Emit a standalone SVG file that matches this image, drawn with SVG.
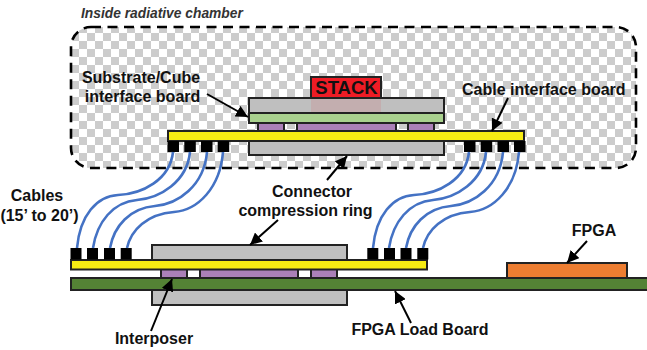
<svg xmlns="http://www.w3.org/2000/svg" width="647" height="350" viewBox="0 0 647 350">
<style>
text{font-family:"Liberation Sans",Arial,sans-serif;font-weight:bold;font-size:16px;fill:#111}
.c{text-anchor:middle}
.b{stroke:#222;stroke-width:2}
.gray{fill:#bfbfbf}.yellow{fill:#f7ec13}.purple{fill:#ab80b8}.green{fill:#a9d18e}.dgreen{fill:#548235}.orange{fill:#ed7d31}
.pad{fill:#000}
.cable{fill:none;stroke:#4472c4;stroke-width:2.6}
.arrow{fill:none;stroke:#000;stroke-width:2;marker-end:url(#ah)}
</style>
<defs>
<pattern id="chk" width="16" height="16" patternUnits="userSpaceOnUse" x="71" y="33">
<rect width="16" height="16" fill="#fff"/>
<rect width="8" height="8" fill="#ccc"/>
<rect x="8" y="8" width="8" height="8" fill="#ccc"/>
</pattern>
<marker id="ah" markerUnits="userSpaceOnUse" markerWidth="13" markerHeight="12" refX="12" refY="6" orient="auto">
<path d="M0 0L12 6L0 12Z" fill="#000"/>
</marker>
</defs>
<g id="chamber">
<rect x="71" y="27" width="565" height="141" rx="20" fill="url(#chk)" stroke="#000" stroke-width="2.6" stroke-dasharray="10 6.5"/>
<text x="81" y="18" style="font-style:italic;font-size:13.8px;fill:#333">Inside radiative chamber</text>
</g>
<g id="stack">
<rect class="b" x="311" y="77" width="70" height="21" fill="#ee1c25"/>
<text class="c" x="346.500" y="94" style="font-size:18.500px">STACK</text>
</g>
<g id="substrate-cube">
<rect class="gray b" x="249" y="98" width="195" height="15"/>
<rect x="311" y="99" width="70" height="13" fill="#ee1c25" opacity=".1"/>
<rect class="green b" x="249" y="113" width="195" height="10"/>
</g>
<g id="upper-interposer">
<rect class="purple b" x="258" y="123" width="26" height="8"/>
<rect class="purple b" x="297" y="123" width="99" height="8"/>
<rect class="purple b" x="408" y="123" width="26" height="8"/>
</g>
<g id="upper-ring">
<rect class="gray b" x="249" y="141" width="195" height="14"/>
</g>
<g id="cable-interface-board">
<rect class="yellow b" x="168" y="131" width="356" height="10"/>
<rect class="pad" x="167.500" y="141" width="11.500" height="11"/>
<rect class="pad" x="184.300" y="141" width="11.500" height="11"/>
<rect class="pad" x="201" y="141" width="11.500" height="11"/>
<rect class="pad" x="217.700" y="141" width="11.500" height="11"/>
<rect class="pad" x="464" y="141" width="11.500" height="11"/>
<rect class="pad" x="480.700" y="141" width="11.500" height="11"/>
<rect class="pad" x="497.500" y="141" width="11.500" height="11"/>
<rect class="pad" x="514" y="141" width="11.500" height="11"/>
</g>
<g id="lower-ring">
<rect class="gray b" x="152" y="245" width="195" height="15"/>
<rect class="gray b" x="152" y="290" width="195" height="15"/>
</g>
<g id="lower-interposer">
<rect class="purple b" x="161" y="269" width="26" height="9"/>
<rect class="purple b" x="200" y="269" width="98" height="9"/>
<rect class="purple b" x="311" y="269" width="26" height="9"/>
</g>
<g id="lower-cable-board">
<rect class="yellow b" x="71" y="260" width="356" height="9.500"/>
<rect class="pad" x="70.500" y="248" width="11" height="11.500"/>
<rect class="pad" x="87" y="248" width="11" height="11.500"/>
<rect class="pad" x="104" y="248" width="11" height="11.500"/>
<rect class="pad" x="120.700" y="248" width="11" height="11.500"/>
<rect class="pad" x="367.300" y="248" width="11" height="11.500"/>
<rect class="pad" x="384" y="248" width="11" height="11.500"/>
<rect class="pad" x="400.500" y="248" width="11" height="11.500"/>
<rect class="pad" x="417.300" y="248" width="11" height="11.500"/>
</g>
<g id="fpga-load-board">
<rect class="dgreen b" x="71" y="278" width="577" height="12"/>
</g>
<g id="fpga">
<rect class="orange b" x="507" y="263" width="120" height="15"/>
</g>
<g id="connectors">
<path class="cable" d="M77 248C80 215 97 196 118 195C142 194 170 180 173 152"/>
<path class="cable" d="M93 248C97 222 113 202 137 200C160 198 187 182 190 152"/>
<path class="cable" d="M110 248C114 226 130 208 155 206C178 204 204 186 207 152"/>
<path class="cable" d="M127 248C131 230 147 214 174 212C198 210 220 188 223 152"/>
<path class="cable" d="M373 248C376 215 393 196 414 195C438 194 466 180 469 152"/>
<path class="cable" d="M389 248C393 222 409 202 433 200C456 198 483 182 486 152"/>
<path class="cable" d="M406 248C410 226 426 208 451 206C474 204 500 186 503 152"/>
<path class="cable" d="M423 248C427 230 443 214 470 212C494 210 516 188 519 152"/>
<path class="arrow" d="M207 94L248 117"/>
<path class="arrow" d="M508 98L492 131"/>
<path class="arrow" d="M327 180L347 156"/>
<path class="arrow" d="M278 220L250 245"/>
<path class="arrow" d="M587 241L567 263"/>
<path class="arrow" d="M151 331L172 279"/>
<path class="arrow" d="M411 323L395 291"/>
</g>
<g id="labels">
<text class="c" x="141" y="83">Substrate/Cube</text>
<text class="c" x="142.500" y="102">interface board</text>
<text x="462" y="95">Cable interface board</text>
<text class="c" x="37" y="201">Cables</text>
<text class="c" x="39.500" y="221">(15’ to 20’)</text>
<text class="c" x="312" y="197">Connector</text>
<text class="c" x="305.500" y="216">compression ring</text>
<text class="c" x="154" y="344">Interposer</text>
<text class="c" x="420" y="335">FPGA Load Board</text>
<text class="c" x="594" y="236">FPGA</text>
</g>
</svg>
